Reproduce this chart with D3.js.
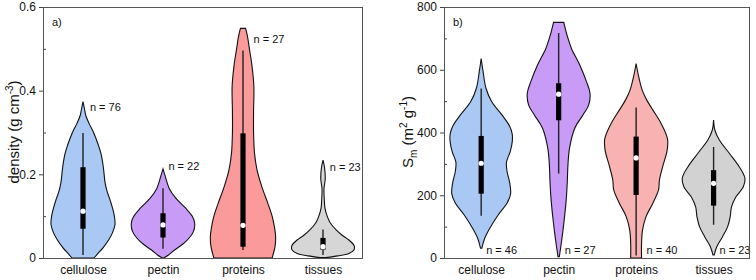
<!DOCTYPE html>
<html>
<head>
<meta charset="utf-8">
<script src="https://cdn.jsdelivr.net/npm/d3@7/dist/d3.min.js"></script>
<style>
  html, body { margin: 0; padding: 0; background: #fff; }
  svg { display: block; font-family: "Liberation Sans", Arial, sans-serif; }
</style>
</head>
<body>
<svg id="chart" width="756" height="280"></svg>
<script>
// ---------------- DATA ----------------
const categories = ["cellulose", "pectin", "proteins", "tissues"];

// Panel a) density (g cm^-3)
const densityTicks = [0, 0.2, 0.4, 0.6];
const densityMinorTicks = [0.1, 0.3, 0.5];
const densityN = [76, 22, 27, 23];
const densityNLabelAt = [0.351, 0.21, 0.514, 0.208];
// violin profiles: [value, relative density]
const densityCellulose = [[0,0.34],[0.011,0.47],[0.025,0.63],[0.043,0.80],[0.06,0.92],[0.08,1.00],[0.1,0.98],[0.12,0.92],[0.14,0.84],[0.16,0.75],[0.18,0.69],[0.2,0.66],[0.22,0.63],[0.25,0.56],[0.27,0.48],[0.3,0.33],[0.32,0.20],[0.34,0.09],[0.355,0.05],[0.374,0]];
const densityPectin = [[0,0.02],[0.007,0.17],[0.019,0.36],[0.039,0.71],[0.063,0.95],[0.083,0.99],[0.099,0.92],[0.119,0.71],[0.143,0.40],[0.167,0.19],[0.198,0.06],[0.213,0]];
const densityProteins = [[0,0.91],[0.027,1.0],[0.05,1.02],[0.075,0.98],[0.1,0.91],[0.13,0.78],[0.17,0.59],[0.21,0.44],[0.25,0.36],[0.3,0.33],[0.35,0.33],[0.41,0.34],[0.46,0.28],[0.5,0.20],[0.53,0.14],[0.549,0.08]];
const densityTissues = [[0.001,0.09],[0.005,0.47],[0.011,0.81],[0.02,0.97],[0.03,0.97],[0.043,0.81],[0.055,0.59],[0.067,0.41],[0.085,0.22],[0.1,0.13],[0.12,0.06],[0.14,0.04],[0.165,0.03],[0.19,0.07],[0.215,0.05],[0.234,0]];
const densityWhiskerLow  = [0.007, 0.022, 0.019, 0.007];
const densityQ1          = [0.070, 0.049, 0.027, 0.020];
const densityMedian      = [0.112, 0.079, 0.078, 0.027];
const densityQ3          = [0.217, 0.107, 0.298, 0.048];
const densityWhiskerHigh = [0.299, 0.167, 0.496, 0.068];

// Panel b) Sm (m^2 g^-1)
const smTicks = [0, 200, 400, 600, 800];
const smMinorTicks = [100, 300, 500, 700];
const smN = [46, 27, 40, 23];
const smNLabelAt = [13, 13, 13, 13];
const smCellulose = [[31,0.02],[63,0.11],[95,0.27],[137,0.53],[175,0.81],[205,0.92],[240,0.89],[275,0.81],[305,0.79],[340,0.91],[370,0.97],[395,0.97],[420,0.89],[456,0.65],[498,0.33],[541,0.15],[594,0.06],[636,0]];
const smPectin = [[4,0.02],[31,0.06],[84,0.13],[137,0.19],[190,0.24],[243,0.27],[296,0.29],[350,0.34],[413,0.50],[456,0.76],[488,0.94],[525,0.98],[562,0.87],[615,0.66],[668,0.40],[711,0.26],[751,0.16]];
const smProteins = [[0,0.17],[47,0.17],[89,0.20],[132,0.31],[174,0.52],[217,0.70],[249,0.73],[291,0.83],[344,0.97],[380,0.98],[429,0.78],[472,0.52],[504,0.33],[535,0.19],[578,0.08],[620,0]];
const smTissues = [[10,0.02],[36,0.10],[68,0.28],[100,0.44],[132,0.52],[163,0.56],[195,0.70],[227,0.93],[254,0.98],[291,0.80],[334,0.49],[376,0.18],[408,0.04],[440,0]];
const smWhiskerLow  = [135, 269, 8, 106];
const smQ1          = [205, 439, 201, 167];
const smMedian      = [302, 522, 319, 238];
const smQ3          = [389, 557, 387, 280];
const smWhiskerHigh = [540, 717, 480, 354];

const fillsA = ["#a9c8f3", "#c89bf6", "#fa9a9a", "#d6d6d6"];
const fillsB = ["#a9c8f3", "#c89bf6", "#f8b2b2", "#d2d2d2"];

// ---------------- DRAW ----------------
const svg = d3.select("#chart");

function interp(profile, v) {
  if (v <= profile[0][0] || v >= profile[profile.length - 1][0]) return 0;
  for (let i = 1; i < profile.length; i++) {
    if (v <= profile[i][0]) {
      const a = profile[i - 1], b = profile[i];
      return a[1] + (b[1] - a[1]) * (v - a[0]) / (b[0] - a[0]);
    }
  }
  return 0;
}

function panel(cfg, idx) {
  const g = svg.append("g");
  const [x0, x1] = cfg.xRange, [yTop, yBot] = [7, 258];
  const x = d3.scaleLinear().domain(cfg.xDomain).range([x0, x1]);
  const y = d3.scaleLinear().domain(cfg.yDomain).range([yBot, yTop]);
  const w = d3.scaleLinear().domain([0, 1]).range([0, 32]);

  const clipId = "clip" + idx;
  svg.append("clipPath").attr("id", clipId)
    .append("rect").attr("x", x0).attr("y", yTop).attr("width", x1 - x0).attr("height", yBot - yTop);

  const vg = g.append("g").attr("clip-path", `url(#${clipId})`);
  cfg.profiles.forEach((prof, i) => {
    const cx = x(i + 1);
    const area = d3.area()
      .curve(d3.curveCatmullRom.alpha(0.5))
      .y(d => y(d[0]))
      .x0(d => cx - w(d[1]))
      .x1(d => cx + w(d[1]));
    vg.append("path").attr("d", area(prof))
      .attr("fill", cfg.fills[i]).attr("stroke", "#111").attr("stroke-width", 1.1);
    // whisker
    vg.append("line").attr("x1", cx).attr("x2", cx)
      .attr("y1", y(cfg.wLow[i])).attr("y2", y(cfg.wHigh[i]))
      .attr("stroke", "#222").attr("stroke-width", 1.4);
    // box
    vg.append("rect").attr("x", cx - 2.6).attr("width", 5.2)
      .attr("y", y(cfg.q3[i])).attr("height", y(cfg.q1[i]) - y(cfg.q3[i]))
      .attr("fill", "#000");
    // median
    vg.append("circle").attr("cx", cx).attr("cy", y(cfg.med[i])).attr("r", 2.6).attr("fill", "#fff");
    // n label
    const hw = w(interp(prof, cfg.nAt[i]));
    g.append("text").attr("x", cx + 5 + hw).attr("y", y(cfg.nAt[i]))
      .attr("font-size", 11).attr("fill", "#111")
      .text("n = " + cfg.n[i]);
  });

  // y axis major
  const ax = d3.axisLeft(y).tickValues(cfg.ticks).tickSize(4).tickPadding(3).tickFormat(cfg.fmt);
  const ga = g.append("g").attr("transform", `translate(${x0},0)`).call(ax);
  ga.select(".domain").remove();
  ga.selectAll("line").attr("stroke", "#444");
  ga.selectAll("text").attr("font-size", 12).attr("fill", "#111").attr("font-family", "Liberation Sans, Arial, sans-serif");
  // y axis minor (inward)
  const axm = d3.axisRight(y).tickValues(cfg.minor).tickSize(3).tickFormat("");
  const gm = g.append("g").attr("transform", `translate(${x0},0)`).call(axm);
  gm.select(".domain").remove();
  gm.selectAll("line").attr("stroke", "#444");

  // x axis category labels
  const axb = d3.axisBottom(x).tickValues([1, 2, 3, 4]).tickSize(0).tickPadding(7.5)
    .tickFormat(d => categories[d - 1]);
  const gb = g.append("g").attr("transform", `translate(0,${yBot})`).call(axb);
  gb.select(".domain").remove();
  gb.selectAll("text").attr("font-size", 12).attr("fill", "#111").attr("font-family", "Liberation Sans, Arial, sans-serif");

  // frame
  g.append("rect").attr("x", x0 + 0.5).attr("y", yTop + 0.5)
    .attr("width", x1 - x0 - 1).attr("height", yBot - yTop)
    .attr("fill", "none").attr("stroke", "#555").attr("stroke-width", 1);

  // panel letter
  g.append("text").attr("x", x0 + 9).attr("y", 26).attr("font-size", 11).attr("fill", "#111").text(cfg.letter);

  // y title
  const t = g.append("text").attr("transform", `translate(${cfg.titleX},132) rotate(-90)`)
    .attr("text-anchor", "middle").attr("font-size", 15).attr("fill", "#111");
  cfg.title(t);
}

panel({
  xDomain: [0.5, 4.5], xRange: [43, 363], yDomain: [0, 0.6],
  profiles: [densityCellulose, densityPectin, densityProteins, densityTissues],
  fills: fillsA,
  wLow: densityWhiskerLow, q1: densityQ1, med: densityMedian, q3: densityQ3, wHigh: densityWhiskerHigh,
  n: densityN, nAt: densityNLabelAt,
  ticks: densityTicks, minor: densityMinorTicks,
  fmt: d => d === 0 ? "0" : d3.format(".1f")(d),
  letter: "a)", titleX: 19,
  title: t => {
    t.append("tspan").text("density (g cm");
    t.append("tspan").attr("font-size", 10).attr("dy", -6).text("-3");
    t.append("tspan").attr("dy", 6).text(")");
  }
}, 0);

panel({
  xDomain: [0.52, 4.47], xRange: [444, 750], yDomain: [0, 800],
  profiles: [smCellulose, smPectin, smProteins, smTissues],
  fills: fillsB,
  wLow: smWhiskerLow, q1: smQ1, med: smMedian, q3: smQ3, wHigh: smWhiskerHigh,
  n: smN, nAt: smNLabelAt,
  ticks: smTicks, minor: smMinorTicks,
  fmt: d3.format("d"),
  letter: "b)", titleX: 413,
  title: t => {
    t.append("tspan").text("S");
    t.append("tspan").attr("font-size", 10).attr("dy", 4).text("m");
    t.append("tspan").attr("dy", -4).text(" (m");
    t.append("tspan").attr("font-size", 10).attr("dy", -6).text("2");
    t.append("tspan").attr("dy", 6).text(" g");
    t.append("tspan").attr("font-size", 10).attr("dy", -6).text("-1");
    t.append("tspan").attr("dy", 6).text(")");
  }
}, 1);
</script>
</body>
</html>
